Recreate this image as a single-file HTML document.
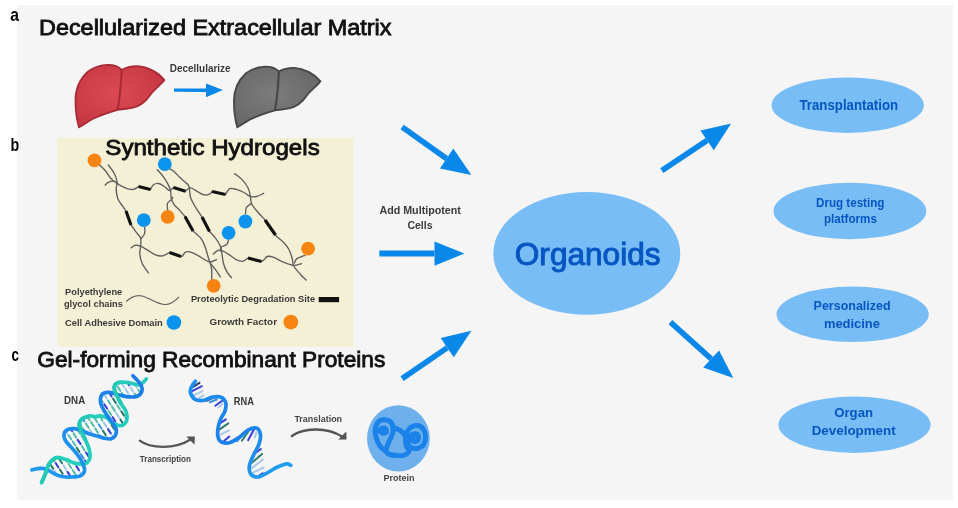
<!DOCTYPE html>
<html><head><meta charset="utf-8"><style>
html,body{margin:0;padding:0;background:#fff;width:958px;height:508px;overflow:hidden}
svg{display:block;filter:blur(0.35px)}
text{font-family:"Liberation Sans",sans-serif}
</style></head><body>
<svg width="958" height="508" viewBox="0 0 958 508">
<rect x="0" y="0" width="958" height="508" fill="#ffffff"/>
<rect x="17" y="5" width="936" height="495" fill="#f5f5f5"/>
<rect x="57.5" y="138" width="296" height="209" fill="#f4f0d5"/>

<defs><radialGradient id="rg" cx="0.45" cy="0.45" r="0.6"><stop offset="0" stop-color="#db4a53"/><stop offset="1" stop-color="#c73843"/></radialGradient><radialGradient id="gg" cx="0.45" cy="0.45" r="0.6"><stop offset="0" stop-color="#7c7c7c"/><stop offset="1" stop-color="#686868"/></radialGradient></defs>
<g transform="translate(70,60) scale(0.13774)"><path d="M 40 300 C 38 220, 70 140, 130 85 C 170 55, 220 38, 275 36 C 320 36, 355 50, 375 72 C 410 52, 450 44, 490 45 C 560 48, 640 90, 685 145 C 665 175, 615 210, 585 250 C 555 295, 520 335, 450 348 C 400 356, 370 358, 345 362 C 290 378, 220 400, 160 430 C 120 452, 90 475, 65 488 C 48 430, 40 370, 40 300 Z" fill="url(#rg)" stroke="#a72a34" stroke-width="13"/><path d="M 375 72 C 372 150, 365 260, 345 362" fill="none" stroke="#a72a34" stroke-width="15"/></g>
<g transform="translate(228.6,61.8) scale(0.1340)"><path d="M 40 300 C 38 220, 70 140, 130 85 C 170 55, 220 38, 275 36 C 320 36, 355 50, 375 72 C 410 52, 450 44, 490 45 C 560 48, 640 90, 685 145 C 665 175, 615 210, 585 250 C 555 295, 520 335, 450 348 C 400 356, 370 358, 345 362 C 290 378, 220 400, 160 430 C 120 452, 90 475, 65 488 C 48 430, 40 370, 40 300 Z" fill="url(#gg)" stroke="#474747" stroke-width="14"/><path d="M 375 72 C 372 150, 365 260, 345 362" fill="none" stroke="#474747" stroke-width="16"/></g>
<text x="10.2" y="20.5" font-size="19" font-weight="bold" fill="#000" textLength="8.7" lengthAdjust="spacingAndGlyphs">a</text>
<text x="10.6" y="151.0" font-size="19" font-weight="bold" fill="#000" textLength="8.7" lengthAdjust="spacingAndGlyphs">b</text>
<text x="11.4" y="361.4" font-size="19" font-weight="bold" fill="#000" textLength="7.5" lengthAdjust="spacingAndGlyphs">c</text>
<text x="39.0" y="34.5" font-size="22.4" font-weight="normal" fill="#111" stroke="#111" stroke-width="0.85" textLength="352.5" lengthAdjust="spacingAndGlyphs">Decellularized Extracellular Matrix</text>
<text x="105.3" y="155.2" font-size="22.6" font-weight="normal" fill="#111" stroke="#111" stroke-width="0.85" textLength="214.4" lengthAdjust="spacingAndGlyphs">Synthetic Hydrogels</text>
<text x="37.3" y="366.7" font-size="21.8" font-weight="normal" fill="#111" stroke="#111" stroke-width="0.85" textLength="348.0" lengthAdjust="spacingAndGlyphs">Gel-forming Recombinant Proteins</text>
<text x="169.8" y="72.2" font-size="10.8" font-weight="bold" fill="#3a3a3a" textLength="60.8" lengthAdjust="spacingAndGlyphs">Decellularize</text>
<text x="379.4" y="214.0" font-size="10.6" font-weight="bold" fill="#3a3a3a" textLength="81.5" lengthAdjust="spacingAndGlyphs">Add Multipotent</text>
<text x="407.4" y="229.0" font-size="10.6" font-weight="bold" fill="#3a3a3a" textLength="25.2" lengthAdjust="spacingAndGlyphs">Cells</text>
<text x="65.1" y="294.7" font-size="9.6" font-weight="bold" fill="#3a3a3a" textLength="57.1" lengthAdjust="spacingAndGlyphs">Polyethylene</text>
<text x="63.9" y="307.0" font-size="9.6" font-weight="bold" fill="#3a3a3a" textLength="59.1" lengthAdjust="spacingAndGlyphs">glycol chains</text>
<text x="65.1" y="325.5" font-size="9.6" font-weight="bold" fill="#3a3a3a" textLength="97.7" lengthAdjust="spacingAndGlyphs">Cell Adhesive Domain</text>
<text x="190.9" y="302.2" font-size="9.6" font-weight="bold" fill="#3a3a3a" textLength="124.2" lengthAdjust="spacingAndGlyphs">Proteolytic Degradation Site</text>
<text x="209.5" y="325.3" font-size="9.6" font-weight="bold" fill="#3a3a3a" textLength="67.5" lengthAdjust="spacingAndGlyphs">Growth Factor</text>
<text x="64.0" y="404.3" font-size="10.5" font-weight="bold" fill="#3a3a3a" textLength="21.2" lengthAdjust="spacingAndGlyphs">DNA</text>
<text x="233.7" y="404.9" font-size="10.5" font-weight="bold" fill="#3a3a3a" textLength="20.2" lengthAdjust="spacingAndGlyphs">RNA</text>
<text x="139.8" y="462.2" font-size="8.4" font-weight="bold" fill="#444" textLength="51.2" lengthAdjust="spacingAndGlyphs">Transcription</text>
<text x="294.4" y="421.7" font-size="9.4" font-weight="bold" fill="#444" textLength="47.7" lengthAdjust="spacingAndGlyphs">Translation</text>
<text x="383.4" y="481.0" font-size="9.4" font-weight="bold" fill="#444" textLength="31.2" lengthAdjust="spacingAndGlyphs">Protein</text>
<line x1="174" y1="90.1" x2="206.0" y2="90.3" stroke="#0a88e9" stroke-width="3.4"/>
<polygon points="206,83.4 223,90.1 206,97.2" fill="#0a88e9"/>
<line x1="402.1" y1="127" x2="446.6" y2="158.6" stroke="#0a88e9" stroke-width="5.6"/>
<polygon points="453.3,148.6 471.4,174.9 439.9,168.6" fill="#0a88e9"/>
<line x1="379.4" y1="253.5" x2="434.5" y2="253.6" stroke="#0a88e9" stroke-width="6"/>
<polygon points="434.5,241.5 464.4,253.4 434.5,265.7" fill="#0a88e9"/>
<line x1="402.1" y1="378.6" x2="447.2" y2="347.7" stroke="#0a88e9" stroke-width="5.6"/>
<polygon points="440.7,338.1 471.4,330.8 453.8,357.3" fill="#0a88e9"/>
<line x1="661.8" y1="170.6" x2="707.1" y2="140.3" stroke="#0a88e9" stroke-width="5.6"/>
<polygon points="700.4,130.5 731.1,123.4 713.8,150.2" fill="#0a88e9"/>
<line x1="670.4" y1="322.2" x2="711.2" y2="358.9" stroke="#0a88e9" stroke-width="5.6"/>
<polygon points="719.1,350.5 733.3,378 703.2,367.4" fill="#0a88e9"/>
<ellipse cx="586.8" cy="253.4" rx="93.5" ry="61.3" fill="#79bdf7"/>
<text x="514.8" y="264.5" font-size="32" font-weight="normal" fill="#0656c2" stroke="#0656c2" stroke-width="1.0" textLength="145.7" lengthAdjust="spacingAndGlyphs">Organoids</text>
<ellipse cx="847.7" cy="105.2" rx="76.1" ry="27.7" fill="#79bdf7"/>
<ellipse cx="849.9" cy="211" rx="76.4" ry="28.2" fill="#79bdf7"/>
<ellipse cx="852.6" cy="314.3" rx="76.1" ry="27.7" fill="#79bdf7"/>
<ellipse cx="854.5" cy="424.7" rx="76.1" ry="28.2" fill="#79bdf7"/>
<text x="799.5" y="109.8" font-size="14.4" font-weight="bold" fill="#0656c2" textLength="98.6" lengthAdjust="spacingAndGlyphs">Transplantation</text>
<text x="816.0" y="206.7" font-size="12.3" font-weight="bold" fill="#0656c2" textLength="68.4" lengthAdjust="spacingAndGlyphs">Drug testing</text>
<text x="823.9" y="222.8" font-size="12.3" font-weight="bold" fill="#0656c2" textLength="53.0" lengthAdjust="spacingAndGlyphs">platforms</text>
<text x="813.6" y="310.1" font-size="12.3" font-weight="bold" fill="#0656c2" textLength="77.0" lengthAdjust="spacingAndGlyphs">Personalized</text>
<text x="823.9" y="327.9" font-size="12.3" font-weight="bold" fill="#0656c2" textLength="56.0" lengthAdjust="spacingAndGlyphs">medicine</text>
<text x="834.2" y="416.6" font-size="12.3" font-weight="bold" fill="#0656c2" textLength="38.9" lengthAdjust="spacingAndGlyphs">Organ</text>
<text x="811.7" y="435.4" font-size="12.3" font-weight="bold" fill="#0656c2" textLength="84.0" lengthAdjust="spacingAndGlyphs">Development</text>
<defs><clipPath id="dnaclip"><path d="M46.60,469.30 L55.60,474.40 L62.00,476.50 L71.60,477.00 L80.30,475.90 L84.60,470.50 L82.50,462.90 L81.40,464.00 L73.80,462.90 L66.20,459.60 L56.50,457.50 L49.20,463.50 Z M82.50,462.90 L77.10,454.20 L70.60,446.60 L65.20,440.20 L64.10,433.70 L68.40,429.30 L76.00,428.80 L79.20,425.00 L81.40,431.50 L85.70,440.20 L89.00,448.80 L90.00,457.50 L86.80,462.90 Z M76.00,428.80 L82.50,431.00 L89.00,433.70 L95.00,435.40 L103.80,438.10 L110.90,438.90 L115.40,435.40 L116.20,429.20 L112.70,423.00 L111.80,422.10 L106.50,417.70 L100.30,415.90 L95.00,416.80 L89.40,416.00 L81.70,419.20 L79.20,425.00 Z M112.70,423.00 L107.40,415.90 L102.10,407.10 L100.30,400.00 L102.80,393.70 L109.20,392.40 L114.00,394.00 L114.30,389.20 L118.10,398.10 L121.50,404.40 L126.00,411.50 L126.90,419.50 L123.30,424.80 L117.10,425.20 Z M114.00,394.00 L119.40,395.00 L128.40,396.90 L137.30,396.20 L141.80,391.70 L141.20,385.40 L141.20,384.10 L136.10,384.70 L129.70,382.80 L120.70,382.20 L115.60,384.10 L114.30,389.20 Z"/></clipPath><linearGradient id="bg1" x1="0" y1="1" x2="1" y2="0"><stop offset="0" stop-color="#1e9af0"/><stop offset="1" stop-color="#1a7ae6"/></linearGradient><linearGradient id="tg1" x1="0" y1="1" x2="1" y2="0"><stop offset="0" stop-color="#1fd3bb"/><stop offset="1" stop-color="#26c9bc"/></linearGradient></defs>
<path d="M46.60,469.30 L55.60,474.40 L62.00,476.50 L71.60,477.00 L80.30,475.90 L84.60,470.50 L82.50,462.90 L81.40,464.00 L73.80,462.90 L66.20,459.60 L56.50,457.50 L49.20,463.50 Z" fill="#fcfdfd"/>
<path d="M82.50,462.90 L77.10,454.20 L70.60,446.60 L65.20,440.20 L64.10,433.70 L68.40,429.30 L76.00,428.80 L79.20,425.00 L81.40,431.50 L85.70,440.20 L89.00,448.80 L90.00,457.50 L86.80,462.90 Z" fill="#fcfdfd"/>
<path d="M76.00,428.80 L82.50,431.00 L89.00,433.70 L95.00,435.40 L103.80,438.10 L110.90,438.90 L115.40,435.40 L116.20,429.20 L112.70,423.00 L111.80,422.10 L106.50,417.70 L100.30,415.90 L95.00,416.80 L89.40,416.00 L81.70,419.20 L79.20,425.00 Z" fill="#fcfdfd"/>
<path d="M112.70,423.00 L107.40,415.90 L102.10,407.10 L100.30,400.00 L102.80,393.70 L109.20,392.40 L114.00,394.00 L114.30,389.20 L118.10,398.10 L121.50,404.40 L126.00,411.50 L126.90,419.50 L123.30,424.80 L117.10,425.20 Z" fill="#fcfdfd"/>
<path d="M114.00,394.00 L119.40,395.00 L128.40,396.90 L137.30,396.20 L141.80,391.70 L141.20,385.40 L141.20,384.10 L136.10,384.70 L129.70,382.80 L120.70,382.20 L115.60,384.10 L114.30,389.20 Z" fill="#fcfdfd"/>
<g clip-path="url(#dnaclip)"><line x1="45.9" y1="476.7" x2="48.7" y2="480.9" stroke="#4a95e4" stroke-width="2.1" stroke-linecap="round"/>
<line x1="42.8" y1="462.4" x2="45.6" y2="466.6" stroke="#3a3fdc" stroke-width="2.1" stroke-linecap="round"/>
<line x1="47.0" y1="468.8" x2="49.7" y2="473.0" stroke="#5cbcac" stroke-width="2.1" stroke-linecap="round"/>
<line x1="51.1" y1="475.2" x2="53.8" y2="479.4" stroke="#3a3fdc" stroke-width="2.1" stroke-linecap="round"/>
<line x1="46.4" y1="458.3" x2="49.1" y2="462.5" stroke="#a6c6ec" stroke-width="2.1" stroke-linecap="round"/>
<line x1="50.5" y1="464.7" x2="53.3" y2="468.9" stroke="#2c7a68" stroke-width="2.1" stroke-linecap="round"/>
<line x1="54.7" y1="471.1" x2="57.4" y2="475.3" stroke="#a6c6ec" stroke-width="2.1" stroke-linecap="round"/>
<line x1="58.8" y1="477.4" x2="61.5" y2="481.6" stroke="#3a3fdc" stroke-width="2.1" stroke-linecap="round"/>
<line x1="51.6" y1="456.7" x2="54.3" y2="460.9" stroke="#2c7a68" stroke-width="2.1" stroke-linecap="round"/>
<line x1="55.7" y1="463.1" x2="58.4" y2="467.3" stroke="#3a3fdc" stroke-width="2.1" stroke-linecap="round"/>
<line x1="59.8" y1="469.5" x2="62.6" y2="473.7" stroke="#2c7a68" stroke-width="2.1" stroke-linecap="round"/>
<line x1="64.0" y1="475.9" x2="66.7" y2="480.1" stroke="#5cbcac" stroke-width="2.1" stroke-linecap="round"/>
<line x1="55.1" y1="452.7" x2="57.8" y2="456.9" stroke="#a6c6ec" stroke-width="2.1" stroke-linecap="round"/>
<line x1="59.3" y1="459.0" x2="62.0" y2="463.2" stroke="#2c7a68" stroke-width="2.1" stroke-linecap="round"/>
<line x1="63.4" y1="465.4" x2="66.1" y2="469.6" stroke="#a6c6ec" stroke-width="2.1" stroke-linecap="round"/>
<line x1="67.5" y1="471.8" x2="70.3" y2="476.0" stroke="#3a3fdc" stroke-width="2.1" stroke-linecap="round"/>
<line x1="64.4" y1="457.5" x2="67.2" y2="461.7" stroke="#5cbcac" stroke-width="2.1" stroke-linecap="round"/>
<line x1="68.6" y1="463.8" x2="71.3" y2="468.0" stroke="#5cbcac" stroke-width="2.1" stroke-linecap="round"/>
<line x1="72.7" y1="470.2" x2="75.4" y2="474.4" stroke="#5cbcac" stroke-width="2.1" stroke-linecap="round"/>
<line x1="76.8" y1="476.6" x2="79.6" y2="480.8" stroke="#5cbcac" stroke-width="2.1" stroke-linecap="round"/>
<line x1="68.0" y1="453.4" x2="70.7" y2="457.6" stroke="#2c7a68" stroke-width="2.1" stroke-linecap="round"/>
<line x1="72.1" y1="459.7" x2="74.8" y2="463.9" stroke="#5cbcac" stroke-width="2.1" stroke-linecap="round"/>
<line x1="76.3" y1="466.1" x2="79.0" y2="470.3" stroke="#3a3fdc" stroke-width="2.1" stroke-linecap="round"/>
<line x1="80.4" y1="472.5" x2="83.1" y2="476.7" stroke="#a6c6ec" stroke-width="2.1" stroke-linecap="round"/>
<line x1="77.3" y1="458.2" x2="80.0" y2="462.4" stroke="#a6c6ec" stroke-width="2.1" stroke-linecap="round"/>
<line x1="81.4" y1="464.5" x2="84.2" y2="468.7" stroke="#5cbcac" stroke-width="2.1" stroke-linecap="round"/>
<line x1="85.6" y1="470.9" x2="88.3" y2="475.1" stroke="#a6c6ec" stroke-width="2.1" stroke-linecap="round"/>
<line x1="80.8" y1="454.1" x2="83.6" y2="458.3" stroke="#4a95e4" stroke-width="2.1" stroke-linecap="round"/>
<line x1="85.0" y1="460.5" x2="87.7" y2="464.6" stroke="#3a3fdc" stroke-width="2.1" stroke-linecap="round"/>
<line x1="86.0" y1="452.5" x2="88.7" y2="456.7" stroke="#3a3fdc" stroke-width="2.1" stroke-linecap="round"/>
<line x1="60.3" y1="451.1" x2="63.0" y2="455.3" stroke="#5cbcac" stroke-width="2.1" stroke-linecap="round"/>
<line x1="63.8" y1="447.0" x2="66.6" y2="451.2" stroke="#4a95e4" stroke-width="2.1" stroke-linecap="round"/>
<line x1="60.7" y1="432.7" x2="63.5" y2="436.9" stroke="#a6c6ec" stroke-width="2.1" stroke-linecap="round"/>
<line x1="64.9" y1="439.0" x2="67.6" y2="443.2" stroke="#5cbcac" stroke-width="2.1" stroke-linecap="round"/>
<line x1="69.0" y1="445.4" x2="71.7" y2="449.6" stroke="#a6c6ec" stroke-width="2.1" stroke-linecap="round"/>
<line x1="73.2" y1="451.8" x2="75.9" y2="456.0" stroke="#3a3fdc" stroke-width="2.1" stroke-linecap="round"/>
<line x1="60.1" y1="422.2" x2="62.9" y2="426.4" stroke="#a6c6ec" stroke-width="2.1" stroke-linecap="round"/>
<line x1="64.3" y1="428.6" x2="67.0" y2="432.8" stroke="#a6c6ec" stroke-width="2.1" stroke-linecap="round"/>
<line x1="68.4" y1="435.0" x2="71.1" y2="439.1" stroke="#5cbcac" stroke-width="2.1" stroke-linecap="round"/>
<line x1="72.6" y1="441.3" x2="75.3" y2="445.5" stroke="#5cbcac" stroke-width="2.1" stroke-linecap="round"/>
<line x1="76.7" y1="447.7" x2="79.4" y2="451.9" stroke="#2c7a68" stroke-width="2.1" stroke-linecap="round"/>
<line x1="65.3" y1="420.6" x2="68.0" y2="424.8" stroke="#5cbcac" stroke-width="2.1" stroke-linecap="round"/>
<line x1="69.5" y1="427.0" x2="72.2" y2="431.2" stroke="#3a3fdc" stroke-width="2.1" stroke-linecap="round"/>
<line x1="73.6" y1="433.4" x2="76.3" y2="437.6" stroke="#5cbcac" stroke-width="2.1" stroke-linecap="round"/>
<line x1="77.7" y1="439.8" x2="80.5" y2="443.9" stroke="#3a3fdc" stroke-width="2.1" stroke-linecap="round"/>
<line x1="81.9" y1="446.1" x2="84.6" y2="450.3" stroke="#5cbcac" stroke-width="2.1" stroke-linecap="round"/>
<line x1="90.2" y1="458.9" x2="92.9" y2="463.1" stroke="#5cbcac" stroke-width="2.1" stroke-linecap="round"/>
<line x1="73.0" y1="422.9" x2="75.7" y2="427.1" stroke="#5cbcac" stroke-width="2.1" stroke-linecap="round"/>
<line x1="77.1" y1="429.3" x2="79.9" y2="433.5" stroke="#5cbcac" stroke-width="2.1" stroke-linecap="round"/>
<line x1="81.3" y1="435.7" x2="84.0" y2="439.9" stroke="#a6c6ec" stroke-width="2.1" stroke-linecap="round"/>
<line x1="85.4" y1="442.0" x2="88.1" y2="446.2" stroke="#2c7a68" stroke-width="2.1" stroke-linecap="round"/>
<line x1="89.6" y1="448.4" x2="92.3" y2="452.6" stroke="#a6c6ec" stroke-width="2.1" stroke-linecap="round"/>
<line x1="78.2" y1="421.3" x2="80.9" y2="425.5" stroke="#2c7a68" stroke-width="2.1" stroke-linecap="round"/>
<line x1="82.3" y1="427.7" x2="85.0" y2="431.9" stroke="#5cbcac" stroke-width="2.1" stroke-linecap="round"/>
<line x1="86.5" y1="434.1" x2="89.2" y2="438.3" stroke="#2c7a68" stroke-width="2.1" stroke-linecap="round"/>
<line x1="90.6" y1="440.5" x2="93.3" y2="444.7" stroke="#3a3fdc" stroke-width="2.1" stroke-linecap="round"/>
<line x1="85.9" y1="423.6" x2="88.6" y2="427.8" stroke="#5cbcac" stroke-width="2.1" stroke-linecap="round"/>
<line x1="90.0" y1="430.0" x2="92.7" y2="434.2" stroke="#a6c6ec" stroke-width="2.1" stroke-linecap="round"/>
<line x1="91.0" y1="422.1" x2="93.8" y2="426.2" stroke="#5cbcac" stroke-width="2.1" stroke-linecap="round"/>
<line x1="74.0" y1="415.0" x2="76.8" y2="419.2" stroke="#3a3fdc" stroke-width="2.1" stroke-linecap="round"/>
<line x1="77.6" y1="410.9" x2="80.3" y2="415.1" stroke="#a6c6ec" stroke-width="2.1" stroke-linecap="round"/>
<line x1="81.7" y1="417.3" x2="84.4" y2="421.4" stroke="#4a95e4" stroke-width="2.1" stroke-linecap="round"/>
<line x1="94.1" y1="436.4" x2="96.9" y2="440.6" stroke="#2c7a68" stroke-width="2.1" stroke-linecap="round"/>
<line x1="86.9" y1="415.7" x2="89.6" y2="419.9" stroke="#5cbcac" stroke-width="2.1" stroke-linecap="round"/>
<line x1="95.2" y1="428.4" x2="97.9" y2="432.6" stroke="#5cbcac" stroke-width="2.1" stroke-linecap="round"/>
<line x1="99.3" y1="434.8" x2="102.0" y2="439.0" stroke="#5cbcac" stroke-width="2.1" stroke-linecap="round"/>
<line x1="90.4" y1="411.6" x2="93.2" y2="415.8" stroke="#a6c6ec" stroke-width="2.1" stroke-linecap="round"/>
<line x1="94.6" y1="418.0" x2="97.3" y2="422.2" stroke="#5cbcac" stroke-width="2.1" stroke-linecap="round"/>
<line x1="98.7" y1="424.3" x2="101.4" y2="428.5" stroke="#4a95e4" stroke-width="2.1" stroke-linecap="round"/>
<line x1="102.9" y1="430.7" x2="105.6" y2="434.9" stroke="#2c7a68" stroke-width="2.1" stroke-linecap="round"/>
<line x1="107.0" y1="437.1" x2="109.7" y2="441.3" stroke="#5cbcac" stroke-width="2.1" stroke-linecap="round"/>
<line x1="99.8" y1="416.4" x2="102.5" y2="420.6" stroke="#5cbcac" stroke-width="2.1" stroke-linecap="round"/>
<line x1="103.9" y1="422.8" x2="106.6" y2="427.0" stroke="#a6c6ec" stroke-width="2.1" stroke-linecap="round"/>
<line x1="108.0" y1="429.1" x2="110.8" y2="433.3" stroke="#3a3fdc" stroke-width="2.1" stroke-linecap="round"/>
<line x1="112.2" y1="435.5" x2="114.9" y2="439.7" stroke="#a6c6ec" stroke-width="2.1" stroke-linecap="round"/>
<line x1="103.3" y1="412.3" x2="106.0" y2="416.5" stroke="#5cbcac" stroke-width="2.1" stroke-linecap="round"/>
<line x1="107.4" y1="418.7" x2="110.2" y2="422.9" stroke="#5cbcac" stroke-width="2.1" stroke-linecap="round"/>
<line x1="111.6" y1="425.0" x2="114.3" y2="429.2" stroke="#2c7a68" stroke-width="2.1" stroke-linecap="round"/>
<line x1="115.7" y1="431.4" x2="118.4" y2="435.6" stroke="#4a95e4" stroke-width="2.1" stroke-linecap="round"/>
<line x1="112.6" y1="417.1" x2="115.3" y2="421.3" stroke="#3a3fdc" stroke-width="2.1" stroke-linecap="round"/>
<line x1="116.8" y1="423.5" x2="119.5" y2="427.7" stroke="#5cbcac" stroke-width="2.1" stroke-linecap="round"/>
<line x1="116.2" y1="413.0" x2="118.9" y2="417.2" stroke="#a6c6ec" stroke-width="2.1" stroke-linecap="round"/>
<line x1="99.2" y1="405.9" x2="101.9" y2="410.1" stroke="#a6c6ec" stroke-width="2.1" stroke-linecap="round"/>
<line x1="96.1" y1="391.6" x2="98.8" y2="395.8" stroke="#3a3fdc" stroke-width="2.1" stroke-linecap="round"/>
<line x1="100.2" y1="398.0" x2="102.9" y2="402.2" stroke="#5cbcac" stroke-width="2.1" stroke-linecap="round"/>
<line x1="104.3" y1="404.3" x2="107.1" y2="408.5" stroke="#3a3fdc" stroke-width="2.1" stroke-linecap="round"/>
<line x1="108.5" y1="410.7" x2="111.2" y2="414.9" stroke="#5cbcac" stroke-width="2.1" stroke-linecap="round"/>
<line x1="99.6" y1="387.5" x2="102.3" y2="391.7" stroke="#4a95e4" stroke-width="2.1" stroke-linecap="round"/>
<line x1="103.7" y1="393.9" x2="106.5" y2="398.1" stroke="#a6c6ec" stroke-width="2.1" stroke-linecap="round"/>
<line x1="107.9" y1="400.3" x2="110.6" y2="404.5" stroke="#5cbcac" stroke-width="2.1" stroke-linecap="round"/>
<line x1="112.0" y1="406.6" x2="114.8" y2="410.8" stroke="#5cbcac" stroke-width="2.1" stroke-linecap="round"/>
<line x1="120.3" y1="419.4" x2="123.0" y2="423.6" stroke="#2c7a68" stroke-width="2.1" stroke-linecap="round"/>
<line x1="124.4" y1="425.8" x2="127.2" y2="429.9" stroke="#a6c6ec" stroke-width="2.1" stroke-linecap="round"/>
<line x1="104.8" y1="385.9" x2="107.5" y2="390.1" stroke="#2c7a68" stroke-width="2.1" stroke-linecap="round"/>
<line x1="108.9" y1="392.3" x2="111.6" y2="396.5" stroke="#3a3fdc" stroke-width="2.1" stroke-linecap="round"/>
<line x1="113.1" y1="398.7" x2="115.8" y2="402.9" stroke="#2c7a68" stroke-width="2.1" stroke-linecap="round"/>
<line x1="117.2" y1="405.1" x2="119.9" y2="409.3" stroke="#5cbcac" stroke-width="2.1" stroke-linecap="round"/>
<line x1="121.3" y1="411.4" x2="124.1" y2="415.6" stroke="#2c7a68" stroke-width="2.1" stroke-linecap="round"/>
<line x1="125.5" y1="417.8" x2="128.2" y2="422.0" stroke="#3a3fdc" stroke-width="2.1" stroke-linecap="round"/>
<line x1="112.5" y1="388.2" x2="115.2" y2="392.4" stroke="#a6c6ec" stroke-width="2.1" stroke-linecap="round"/>
<line x1="116.6" y1="394.6" x2="119.3" y2="398.8" stroke="#4a95e4" stroke-width="2.1" stroke-linecap="round"/>
<line x1="120.7" y1="401.0" x2="123.5" y2="405.2" stroke="#5cbcac" stroke-width="2.1" stroke-linecap="round"/>
<line x1="124.9" y1="407.3" x2="127.6" y2="411.5" stroke="#a6c6ec" stroke-width="2.1" stroke-linecap="round"/>
<line x1="117.6" y1="386.6" x2="120.4" y2="390.8" stroke="#5cbcac" stroke-width="2.1" stroke-linecap="round"/>
<line x1="121.8" y1="393.0" x2="124.5" y2="397.2" stroke="#5cbcac" stroke-width="2.1" stroke-linecap="round"/>
<line x1="125.9" y1="399.4" x2="128.7" y2="403.6" stroke="#5cbcac" stroke-width="2.1" stroke-linecap="round"/>
<line x1="125.3" y1="388.9" x2="128.1" y2="393.1" stroke="#a6c6ec" stroke-width="2.1" stroke-linecap="round"/>
<line x1="113.5" y1="380.3" x2="116.2" y2="384.5" stroke="#5cbcac" stroke-width="2.1" stroke-linecap="round"/>
<line x1="121.2" y1="382.6" x2="123.9" y2="386.8" stroke="#a6c6ec" stroke-width="2.1" stroke-linecap="round"/>
<line x1="129.5" y1="395.3" x2="132.2" y2="399.5" stroke="#5cbcac" stroke-width="2.1" stroke-linecap="round"/>
<line x1="126.4" y1="381.0" x2="129.1" y2="385.2" stroke="#3a3fdc" stroke-width="2.1" stroke-linecap="round"/>
<line x1="130.5" y1="387.4" x2="133.2" y2="391.6" stroke="#a6c6ec" stroke-width="2.1" stroke-linecap="round"/>
<line x1="134.6" y1="393.7" x2="137.4" y2="397.9" stroke="#5cbcac" stroke-width="2.1" stroke-linecap="round"/>
<line x1="134.1" y1="383.3" x2="136.8" y2="387.5" stroke="#a6c6ec" stroke-width="2.1" stroke-linecap="round"/>
<line x1="138.2" y1="389.6" x2="140.9" y2="393.8" stroke="#5cbcac" stroke-width="2.1" stroke-linecap="round"/>
<line x1="142.3" y1="396.0" x2="145.1" y2="400.2" stroke="#5cbcac" stroke-width="2.1" stroke-linecap="round"/>
<line x1="139.2" y1="381.7" x2="142.0" y2="385.9" stroke="#3a3fdc" stroke-width="2.1" stroke-linecap="round"/>
<line x1="143.4" y1="388.1" x2="146.1" y2="392.3" stroke="#5cbcac" stroke-width="2.1" stroke-linecap="round"/>
<line x1="142.8" y1="377.6" x2="145.5" y2="381.8" stroke="#5cbcac" stroke-width="2.1" stroke-linecap="round"/></g>
<path d="M41.50,482.70 C42.15,481.20 44.12,476.90 45.40,473.70 C46.68,470.50 47.35,466.20 49.20,463.50 C51.05,460.80 53.67,458.15 56.50,457.50 C59.33,456.85 63.32,458.70 66.20,459.60 C69.08,460.50 71.27,462.17 73.80,462.90 C76.33,463.63 79.23,464.00 81.40,464.00 C83.57,464.00 85.37,463.98 86.80,462.90 C88.23,461.82 89.63,459.85 90.00,457.50 C90.37,455.15 89.72,451.68 89.00,448.80 C88.28,445.92 86.97,443.08 85.70,440.20 C84.43,437.32 82.48,434.03 81.40,431.50 C80.32,428.97 79.15,427.05 79.20,425.00 C79.25,422.95 80.00,420.70 81.70,419.20 C83.40,417.70 87.18,416.40 89.40,416.00 C91.62,415.60 93.18,416.82 95.00,416.80 C96.82,416.78 98.38,415.75 100.30,415.90 C102.22,416.05 104.58,416.67 106.50,417.70 C108.42,418.73 110.03,420.85 111.80,422.10 C113.57,423.35 115.18,424.75 117.10,425.20 C119.02,425.65 121.67,425.75 123.30,424.80 C124.93,423.85 126.45,421.72 126.90,419.50 C127.35,417.28 126.90,414.02 126.00,411.50 C125.10,408.98 122.82,406.63 121.50,404.40 C120.18,402.17 119.30,400.63 118.10,398.10 C116.90,395.57 114.72,391.53 114.30,389.20 C113.88,386.87 114.53,385.27 115.60,384.10 C116.67,382.93 118.35,382.42 120.70,382.20 C123.05,381.98 127.13,382.38 129.70,382.80 C132.27,383.22 134.18,384.48 136.10,384.70 C138.02,384.92 139.50,385.05 141.20,384.10 C142.90,383.15 145.45,379.85 146.30,379.00" fill="none" stroke="url(#tg1)" stroke-width="3.7" stroke-linecap="round"/>
<path d="M31.90,469.90 C33.28,469.65 37.75,468.50 40.20,468.40 C42.65,468.30 44.03,468.30 46.60,469.30 C49.17,470.30 53.03,473.20 55.60,474.40 C58.17,475.60 59.33,476.07 62.00,476.50 C64.67,476.93 68.55,477.10 71.60,477.00 C74.65,476.90 78.13,476.98 80.30,475.90 C82.47,474.82 84.23,472.67 84.60,470.50 C84.97,468.33 83.75,465.62 82.50,462.90 C81.25,460.18 79.08,456.92 77.10,454.20 C75.12,451.48 72.58,448.93 70.60,446.60 C68.62,444.27 66.28,442.35 65.20,440.20 C64.12,438.05 63.57,435.52 64.10,433.70 C64.63,431.88 66.42,430.12 68.40,429.30 C70.38,428.48 73.65,428.52 76.00,428.80 C78.35,429.08 80.33,430.18 82.50,431.00 C84.67,431.82 86.92,432.97 89.00,433.70 C91.08,434.43 92.53,434.67 95.00,435.40 C97.47,436.13 101.15,437.52 103.80,438.10 C106.45,438.68 108.97,439.35 110.90,438.90 C112.83,438.45 114.52,437.02 115.40,435.40 C116.28,433.78 116.65,431.27 116.20,429.20 C115.75,427.13 114.17,425.22 112.70,423.00 C111.23,420.78 109.17,418.55 107.40,415.90 C105.63,413.25 103.28,409.75 102.10,407.10 C100.92,404.45 100.18,402.23 100.30,400.00 C100.42,397.77 101.32,394.97 102.80,393.70 C104.28,392.43 106.43,392.18 109.20,392.40 C111.97,392.62 116.20,394.25 119.40,395.00 C122.60,395.75 125.42,396.70 128.40,396.90 C131.38,397.10 135.07,397.07 137.30,396.20 C139.53,395.33 141.15,393.50 141.80,391.70 C142.45,389.90 142.15,387.52 141.20,385.40 C140.25,383.28 137.48,380.60 136.10,379.00 C134.72,377.40 133.43,376.33 132.90,375.80" fill="none" stroke="url(#bg1)" stroke-width="3.7" stroke-linecap="round"/>
<path d="M41.50,482.70 C42.15,481.20 44.12,476.90 45.40,473.70 C46.68,470.50 47.35,466.20 49.20,463.50 C51.05,460.80 55.28,458.50 56.50,457.50" fill="none" stroke="#24c9b6" stroke-width="3.7" stroke-linecap="butt"/>
<path d="M85.70,440.20 C84.98,438.75 82.48,434.03 81.40,431.50 C80.32,428.97 79.15,427.05 79.20,425.00 C79.25,422.95 80.00,420.70 81.70,419.20 C83.40,417.70 88.12,416.53 89.40,416.00" fill="none" stroke="#24c9b6" stroke-width="3.7" stroke-linecap="butt"/>
<path d="M121.50,404.40 C120.93,403.35 119.30,400.63 118.10,398.10 C116.90,395.57 114.72,391.53 114.30,389.20 C113.88,386.87 114.53,385.27 115.60,384.10 C116.67,382.93 119.85,382.52 120.70,382.20" fill="none" stroke="#24c9b6" stroke-width="3.7" stroke-linecap="butt"/>
<path d="M99.70,165.00 C100.62,165.92 103.37,168.28 105.20,170.50 C107.03,172.72 109.00,176.33 110.70,178.30 C112.40,180.27 113.68,181.05 115.40,182.30 C117.12,183.55 119.03,184.75 121.00,185.80 C122.97,186.85 125.12,188.00 127.20,188.60 C129.28,189.20 131.62,189.75 133.50,189.40 C135.38,189.05 137.67,186.98 138.50,186.50" fill="none" stroke="#5f5f5f" stroke-width="1.35" stroke-linecap="round"/>
<path d="M150.50,189.50 C150.95,188.75 151.83,186.00 153.20,185.00 C154.57,184.00 156.73,183.17 158.70,183.50 C160.67,183.83 163.20,185.83 165.00,187.00 C166.80,188.17 168.08,190.42 169.50,190.50 C170.92,190.58 172.83,188.00 173.50,187.50" fill="none" stroke="#5f5f5f" stroke-width="1.35" stroke-linecap="round"/>
<path d="M185.50,191.20 C186.33,190.63 188.48,187.72 190.50,187.80 C192.52,187.88 195.37,190.52 197.60,191.70 C199.83,192.88 201.93,194.50 203.90,194.90 C205.87,195.30 208.05,194.67 209.40,194.10 C210.75,193.53 211.57,191.93 212.00,191.50" fill="none" stroke="#5f5f5f" stroke-width="1.35" stroke-linecap="round"/>
<path d="M225.50,194.50 C226.22,193.52 228.03,189.45 229.80,188.60 C231.57,187.75 233.73,188.75 236.10,189.40 C238.47,190.05 241.63,191.32 244.00,192.50 C246.37,193.68 248.20,195.83 250.30,196.50 C252.40,197.17 254.37,197.03 256.60,196.50 C258.83,195.97 262.52,193.83 263.70,193.30" fill="none" stroke="#5f5f5f" stroke-width="1.35" stroke-linecap="round"/>
<path d="M105.20,185.00 C105.72,184.55 106.85,182.93 108.30,182.30 C109.75,181.67 112.32,180.93 113.90,181.20 C115.48,181.47 117.15,183.45 117.80,183.90" fill="none" stroke="#5f5f5f" stroke-width="1.35" stroke-linecap="round"/>
<path d="M108.30,165.00 C109.23,166.30 112.45,170.05 113.90,172.80 C115.35,175.55 116.62,178.73 117.00,181.50 C117.38,184.27 116.07,186.52 116.20,189.40 C116.33,192.28 116.75,196.05 117.80,198.80 C118.85,201.55 121.13,203.87 122.50,205.90 C123.87,207.93 125.42,210.15 126.00,211.00" fill="none" stroke="#5f5f5f" stroke-width="1.35" stroke-linecap="round"/>
<path d="M131.00,225.00 C131.95,226.30 135.10,230.58 136.70,232.80 C138.30,235.02 139.95,236.07 140.60,238.30 C141.25,240.53 140.73,243.57 140.60,246.20 C140.47,248.83 139.53,251.22 139.80,254.10 C140.07,256.98 140.75,260.35 142.20,263.50 C143.65,266.65 147.45,271.42 148.50,273.00" fill="none" stroke="#5f5f5f" stroke-width="1.35" stroke-linecap="round"/>
<path d="M157.20,169.70 C158.25,170.88 161.67,174.32 163.50,176.80 C165.33,179.28 167.02,182.25 168.20,184.60 C169.38,186.95 170.08,188.53 170.60,190.90 C171.12,193.27 170.65,196.43 171.30,198.80 C171.95,201.17 173.05,203.13 174.50,205.10 C175.95,207.07 178.25,208.70 180.00,210.60 C181.75,212.50 184.17,215.52 185.00,216.50" fill="none" stroke="#5f5f5f" stroke-width="1.35" stroke-linecap="round"/>
<path d="M193.00,231.00 C194.42,232.35 199.43,236.30 201.50,239.10 C203.57,241.90 204.35,245.03 205.40,247.80 C206.45,250.57 207.00,253.20 207.80,255.70 C208.60,258.20 208.88,260.45 210.20,262.80 C211.52,265.15 214.00,267.45 215.70,269.80 C217.40,272.15 219.62,275.72 220.40,276.90" fill="none" stroke="#5f5f5f" stroke-width="1.35" stroke-linecap="round"/>
<path d="M169.80,168.90 C170.58,169.42 172.80,170.55 174.50,172.00 C176.20,173.45 178.25,175.93 180.00,177.60 C181.75,179.27 183.52,180.57 185.00,182.00 C186.48,183.43 187.98,183.67 188.90,186.20 C189.82,188.73 189.45,193.78 190.50,197.20 C191.55,200.62 193.28,203.40 195.20,206.70 C197.12,210.00 200.87,215.28 202.00,217.00" fill="none" stroke="#5f5f5f" stroke-width="1.35" stroke-linecap="round"/>
<path d="M209.50,231.50 C210.53,232.63 213.88,235.85 215.70,238.30 C217.52,240.75 219.35,243.57 220.40,246.20 C221.45,248.83 221.48,251.22 222.00,254.10 C222.52,256.98 222.72,260.62 223.50,263.50 C224.28,266.38 225.38,269.03 226.70,271.40 C228.02,273.77 230.62,276.65 231.40,277.70" fill="none" stroke="#5f5f5f" stroke-width="1.35" stroke-linecap="round"/>
<path d="M234.60,173.60 C235.90,174.65 240.17,177.53 242.40,179.90 C244.63,182.27 246.68,185.17 248.00,187.80 C249.32,190.43 249.72,193.08 250.30,195.70 C250.88,198.32 250.55,201.12 251.50,203.50 C252.45,205.88 253.75,207.25 256.00,210.00 C258.25,212.75 263.50,218.33 265.00,220.00" fill="none" stroke="#5f5f5f" stroke-width="1.35" stroke-linecap="round"/>
<path d="M275.50,235.00 C275.75,235.28 275.57,235.37 277.00,236.70 C278.43,238.03 282.13,240.90 284.10,243.00 C286.07,245.10 287.48,246.85 288.80,249.30 C290.12,251.75 291.17,254.92 292.00,257.70 C292.83,260.48 292.42,263.25 293.80,266.00 C295.18,268.75 298.23,271.85 300.30,274.20 C302.37,276.55 305.22,279.12 306.20,280.10" fill="none" stroke="#5f5f5f" stroke-width="1.35" stroke-linecap="round"/>
<path d="M131.20,247.80 C131.85,247.40 133.53,245.67 135.10,245.40 C136.67,245.13 138.50,245.40 140.60,246.20 C142.70,247.00 145.20,248.75 147.70,250.20 C150.20,251.65 153.23,253.93 155.60,254.90 C157.97,255.87 160.07,256.13 161.90,256.00 C163.73,255.87 165.33,254.68 166.60,254.10 C167.87,253.52 169.02,252.77 169.50,252.50" fill="none" stroke="#5f5f5f" stroke-width="1.35" stroke-linecap="round"/>
<path d="M181.00,256.50 C181.27,256.42 181.93,256.67 182.60,256.00 C183.27,255.33 183.95,253.22 185.00,252.50 C186.05,251.78 186.93,251.30 188.90,251.70 C190.87,252.10 194.18,253.58 196.80,254.90 C199.42,256.22 202.37,258.42 204.60,259.60 C206.83,260.78 208.22,262.00 210.20,262.00 C212.18,262.00 215.45,260.00 216.50,259.60" fill="none" stroke="#5f5f5f" stroke-width="1.35" stroke-linecap="round"/>
<path d="M213.30,254.10 C213.83,253.63 215.32,251.95 216.50,251.30 C217.68,250.65 218.43,249.73 220.40,250.20 C222.37,250.67 225.68,252.53 228.30,254.10 C230.92,255.67 233.75,258.40 236.10,259.60 C238.45,260.80 240.42,261.57 242.40,261.30 C244.38,261.03 247.07,258.55 248.00,258.00" fill="none" stroke="#5f5f5f" stroke-width="1.35" stroke-linecap="round"/>
<path d="M261.50,261.50 C261.87,261.27 262.75,260.93 263.70,260.10 C264.65,259.27 265.63,257.00 267.20,256.50 C268.77,256.00 270.53,256.22 273.10,257.10 C275.67,257.98 279.25,260.42 282.60,261.80 C285.95,263.18 290.05,265.10 293.20,265.40 C296.35,265.70 300.12,263.90 301.50,263.60" fill="none" stroke="#5f5f5f" stroke-width="1.35" stroke-linecap="round"/>
<path d="M144.60,227.30 C144.60,228.35 145.27,231.63 144.60,233.60 C143.93,235.57 141.27,238.18 140.60,239.10" fill="none" stroke="#5f5f5f" stroke-width="1.35" stroke-linecap="round"/>
<path d="M167.70,210.60 C167.65,209.42 166.80,205.33 167.40,203.50 C168.00,201.67 170.38,200.65 171.30,199.60 C172.22,198.55 172.63,197.60 172.90,197.20" fill="none" stroke="#5f5f5f" stroke-width="1.35" stroke-linecap="round"/>
<path d="M228.60,239.90 C228.28,240.68 227.93,243.42 226.70,244.60 C225.47,245.78 222.25,245.93 221.20,247.00 C220.15,248.07 220.53,250.33 220.40,251.00" fill="none" stroke="#5f5f5f" stroke-width="1.35" stroke-linecap="round"/>
<path d="M245.50,213.90 C245.63,212.85 245.38,209.32 246.30,207.60 C247.22,205.88 250.22,204.27 251.00,203.60" fill="none" stroke="#5f5f5f" stroke-width="1.35" stroke-linecap="round"/>
<path d="M211.70,279.30 C211.70,277.72 211.95,272.55 211.70,269.80 C211.45,267.05 210.45,263.97 210.20,262.80" fill="none" stroke="#5f5f5f" stroke-width="1.35" stroke-linecap="round"/>
<path d="M305.00,255.30 C303.62,255.90 298.47,257.62 296.70,258.90 C294.93,260.18 294.78,262.32 294.40,263.00" fill="none" stroke="#5f5f5f" stroke-width="1.35" stroke-linecap="round"/>
<line x1="138.5" y1="186.5" x2="150.5" y2="189.5" stroke="#111" stroke-width="3.1" stroke-linecap="butt"/>
<line x1="173.5" y1="187.5" x2="185.5" y2="191.2" stroke="#111" stroke-width="3.1" stroke-linecap="butt"/>
<line x1="212" y1="191.5" x2="225.5" y2="194.5" stroke="#111" stroke-width="3.1" stroke-linecap="butt"/>
<line x1="126" y1="211" x2="131" y2="225" stroke="#111" stroke-width="3.1" stroke-linecap="butt"/>
<line x1="185" y1="216.5" x2="193" y2="231" stroke="#111" stroke-width="3.1" stroke-linecap="butt"/>
<line x1="202" y1="217" x2="209.5" y2="231.5" stroke="#111" stroke-width="3.1" stroke-linecap="butt"/>
<line x1="265" y1="220" x2="275.5" y2="235" stroke="#111" stroke-width="3.1" stroke-linecap="butt"/>
<line x1="169.5" y1="252.5" x2="181" y2="256.5" stroke="#111" stroke-width="3.1" stroke-linecap="butt"/>
<line x1="248" y1="258" x2="261.5" y2="261.5" stroke="#111" stroke-width="3.1" stroke-linecap="butt"/>
<circle cx="94.5" cy="160.3" r="6.9" fill="#f88512"/>
<circle cx="164.8" cy="164.2" r="6.9" fill="#0a94ee"/>
<circle cx="143.8" cy="220.2" r="6.9" fill="#0a94ee"/>
<circle cx="167.7" cy="216.9" r="6.9" fill="#f88512"/>
<circle cx="245.4" cy="221.5" r="6.9" fill="#0a94ee"/>
<circle cx="228.6" cy="232.8" r="6.9" fill="#0a94ee"/>
<circle cx="308.1" cy="248.7" r="6.9" fill="#f88512"/>
<circle cx="213.7" cy="285.8" r="6.9" fill="#f88512"/>
<path d="M126.1,301.5 C131,297 136,294.5 142,296 C150,298 158,305 166,304.5 C172,304 176,300 178.9,296.8" fill="none" stroke="#5f5f5f" stroke-width="1.15"/>
<rect x="318.7" y="297" width="20.4" height="5.2" fill="#111"/>
<circle cx="173.9" cy="322.5" r="7.3" fill="#0a94ee"/>
<circle cx="290.8" cy="322.1" r="7.4" fill="#f88512"/>
<line x1="192.6" y1="387.1" x2="199.5" y2="382.9" stroke="#2a3f6a" stroke-width="2.0" stroke-linecap="round"/>
<line x1="191.6" y1="391.4" x2="201.9" y2="386.2" stroke="#3a3fdb" stroke-width="2.0" stroke-linecap="round"/>
<line x1="192.3" y1="396.2" x2="202.6" y2="391.1" stroke="#a9c7ea" stroke-width="2.0" stroke-linecap="round"/>
<line x1="196.7" y1="399.5" x2="203.6" y2="395.3" stroke="#a9c7ea" stroke-width="2.0" stroke-linecap="round"/>
<line x1="206.5" y1="400.8" x2="212.5" y2="398.1" stroke="#2a3f6a" stroke-width="2.0" stroke-linecap="round"/>
<line x1="209.8" y1="402.2" x2="216.7" y2="399.5" stroke="#3f8fe2" stroke-width="2.0" stroke-linecap="round"/>
<line x1="215.3" y1="405.8" x2="222.3" y2="400.7" stroke="#3a3fdb" stroke-width="2.0" stroke-linecap="round"/>
<line x1="218.6" y1="407.3" x2="222.4" y2="404.2" stroke="#a9c7ea" stroke-width="2.0" stroke-linecap="round"/>
<line x1="220.7" y1="423.0" x2="225.8" y2="419.4" stroke="#3a3fdb" stroke-width="2.0" stroke-linecap="round"/>
<line x1="219.6" y1="429.4" x2="228.3" y2="423.4" stroke="#2f7d6c" stroke-width="2.0" stroke-linecap="round"/>
<line x1="220.3" y1="434.7" x2="229.0" y2="430.4" stroke="#a9c7ea" stroke-width="2.0" stroke-linecap="round"/>
<line x1="224.1" y1="440.9" x2="229.3" y2="436.6" stroke="#3a3fdb" stroke-width="2.0" stroke-linecap="round"/>
<line x1="237.2" y1="441.2" x2="242.4" y2="434.3" stroke="#3f8fe2" stroke-width="2.0" stroke-linecap="round"/>
<line x1="241.9" y1="440.7" x2="248.0" y2="432.0" stroke="#2f7d6c" stroke-width="2.0" stroke-linecap="round"/>
<line x1="248.1" y1="440.2" x2="254.2" y2="429.0" stroke="#3a3fdb" stroke-width="2.0" stroke-linecap="round"/>
<line x1="254.7" y1="437.5" x2="256.5" y2="432.4" stroke="#a9c7ea" stroke-width="2.0" stroke-linecap="round"/>
<line x1="255.8" y1="452.6" x2="260.9" y2="449.0" stroke="#3a3fdb" stroke-width="2.0" stroke-linecap="round"/>
<line x1="251.9" y1="462.7" x2="262.1" y2="454.0" stroke="#2f7d6c" stroke-width="2.0" stroke-linecap="round"/>
<line x1="251.8" y1="468.2" x2="262.9" y2="459.5" stroke="#a9c7ea" stroke-width="2.0" stroke-linecap="round"/>
<line x1="253.2" y1="472.6" x2="263.5" y2="467.5" stroke="#a9c7ea" stroke-width="2.0" stroke-linecap="round"/>
<line x1="258.7" y1="475.9" x2="262.9" y2="473.2" stroke="#3a3fdb" stroke-width="2.0" stroke-linecap="round"/>
<defs><linearGradient id="rg2" x1="0" y1="0" x2="1" y2="1"><stop offset="0" stop-color="#1e8ff0"/><stop offset="0.5" stop-color="#1a80e8"/><stop offset="1" stop-color="#22a4f0"/></linearGradient></defs>
<path d="M195.30,381.20 C194.62,382.23 192.00,385.45 191.20,387.40 C190.40,389.35 189.92,390.95 190.50,392.90 C191.08,394.85 192.63,397.83 194.70,399.10 C196.77,400.37 199.92,400.83 202.90,400.50 C205.88,400.17 209.60,397.67 212.60,397.10 C215.60,396.53 218.72,396.18 220.90,397.10 C223.08,398.02 225.02,400.30 225.70,402.60 C226.38,404.90 225.75,408.33 225.00,410.90 C224.25,413.47 222.30,415.48 221.20,418.00 C220.10,420.52 218.97,423.05 218.40,426.00 C217.83,428.95 217.33,433.05 217.80,435.70 C218.27,438.35 219.15,440.77 221.20,441.90 C223.25,443.03 227.00,443.32 230.10,442.50 C233.20,441.68 236.82,439.07 239.80,437.00 C242.78,434.93 245.25,431.58 248.00,430.10 C250.75,428.62 254.23,427.40 256.30,428.10 C258.37,428.80 259.93,431.67 260.40,434.30 C260.87,436.93 260.23,440.47 259.10,443.90 C257.97,447.33 255.22,451.23 253.60,454.90 C251.98,458.57 249.87,462.68 249.40,465.90 C248.93,469.12 249.42,472.35 250.80,474.20 C252.18,476.05 254.95,477.23 257.70,477.00 C260.45,476.77 264.08,474.42 267.30,472.80 C270.52,471.18 273.78,468.78 277.00,467.30 C280.22,465.82 284.32,464.23 286.60,463.90 C288.88,463.57 290.02,465.07 290.70,465.30" fill="none" stroke="url(#rg2)" stroke-width="3.7" stroke-linecap="round"/>
<ellipse cx="398.4" cy="438.3" rx="31.4" ry="33.1" fill="#6db0ec"/>
<g transform="translate(365,403) scale(0.138)"><path d="M80,245 C62,190 80,125 135,122 C185,120 210,150 203,205 C198,250 160,290 152,340 C150,375 210,385 270,380 C310,375 325,350 318,330 M105,205 C110,175 150,172 155,200 C158,220 130,225 118,212 M80,245 C92,295 118,330 150,348 M200,178 C240,185 270,205 292,235 M305,325 C282,270 290,185 355,165 C420,150 448,215 435,275 C425,325 370,345 325,318 C300,290 315,225 365,222 C395,225 395,275 365,280 C345,280 340,262 350,250" fill="none" stroke="#1b82ea" stroke-width="36" stroke-linecap="round"/></g>
<path d="M139.8,440.7 C150,448.5 175,449.5 190.5,439.5" fill="none" stroke="#555" stroke-width="2.3" stroke-linecap="round"/>
<polygon points="186.3,436.6 194.9,436.6 194.5,444.8" fill="#555"/>
<path d="M291.9,436 C303,428 326,426.5 342,436.5" fill="none" stroke="#555" stroke-width="2.3" stroke-linecap="round"/>
<polygon points="346.3,431.6 346.6,439.6 338.2,439.6" fill="#555"/>
</svg></body></html>
